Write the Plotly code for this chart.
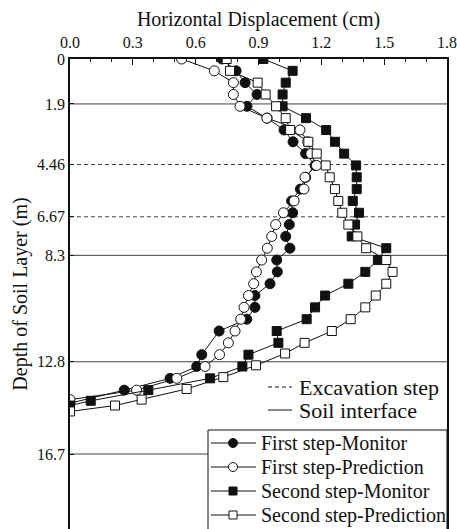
import plotly.graph_objects as go

# ---- data ----
fm_depth = [0, 0.5, 1, 1.5, 2, 2.5, 3, 3.5, 4, 4.5, 5, 5.5, 6, 6.5, 7, 7.5, 8, 8.5, 9, 9.5, 10, 10.5, 11, 11.5, 12.5, 13, 13.5, 14, 14.55]
fm_disp = [0.726, 0.793, 0.836, 0.893, 0.845, 0.941, 1.022, 1.065, 1.125, 1.17, 1.125, 1.10, 1.058, 1.063, 1.047, 1.03, 1.05, 0.987, 0.99, 0.955, 0.883, 0.883, 0.844, 0.712, 0.629, 0.605, 0.478, 0.259, 0.0]

fp_depth = [0, 0.5, 1, 1.5, 2, 2.5, 3, 3.5, 4, 4.5, 5, 5.5, 6, 6.5, 7, 7.5, 8, 8.5, 9, 9.5, 10, 10.5, 11, 11.5, 12, 12.5, 13, 13.5, 14, 14.4]
fp_disp = [0.533, 0.689, 0.78, 0.78, 0.812, 0.94, 1.098, 1.135, 1.15, 1.177, 1.122, 1.117, 1.07, 1.019, 0.982, 0.963, 0.942, 0.915, 0.89, 0.877, 0.852, 0.831, 0.815, 0.788, 0.756, 0.714, 0.645, 0.51, 0.318, 0.0]

sm_depth = [0, 0.5, 1, 1.5, 2, 2.5, 3, 3.5, 4, 4.5, 5, 5.5, 6, 6.5, 7, 7.5, 8, 8.5, 9, 9.5, 10, 10.5, 11, 11.5, 12, 12.5, 13, 13.5, 14, 14.45, 14.65]
sm_disp = [0.923, 1.063, 1.03, 1.015, 1.015, 1.127, 1.223, 1.265, 1.309, 1.366, 1.369, 1.369, 1.35, 1.38, 1.361, 1.345, 1.51, 1.47, 1.41, 1.329, 1.218, 1.17, 1.13, 0.987, 0.995, 0.852, 0.823, 0.669, 0.374, 0.099, 0.0]

sp_depth = [0, 0.5, 1, 1.5, 2, 2.5, 3, 3.5, 4, 4.5, 5, 5.5, 6, 6.5, 7, 7.5, 8, 8.5, 9, 9.5, 10, 10.5, 11, 11.5, 12, 12.45, 12.95, 13.45, 13.95, 14.4, 14.65, 14.9]
sp_disp = [0.748, 0.764, 0.896, 0.934, 0.984, 1.03, 1.051, 1.138, 1.178, 1.221, 1.24, 1.265, 1.281, 1.30, 1.329, 1.372, 1.414, 1.51, 1.54, 1.51, 1.46, 1.41, 1.34, 1.25, 1.12, 1.027, 0.888, 0.732, 0.557, 0.342, 0.215, 0.0]

series_names = ["First step-Monitor", "First step-Prediction", "Second step-Monitor", "Second step-Prediction"]
line_key_names = ["Excavation step", "Soil interface"]

excavation_depths = [4.46, 6.67]
interface_depths = [1.9, 8.3, 12.8, 16.7]
y_ticks = [0, 1.9, 4.46, 6.67, 8.3, 12.8, 16.7]
y_tick_text = ["0", "1.9", "4.46", "6.67", "8.3", "12.8", "16.7"]
x_ticks = [0, 0.3, 0.6, 0.9, 1.2, 1.5, 1.8]
x_tick_text = ["0.0", "0.3", "0.6", "0.9", "1.2", "1.5", "1.8"]

FONT = "Liberation Serif, Times New Roman, serif"
INK = "#111111"
RULE = "#444444"

W, H = 457, 529
ML, MR, MT, MB = 70, 10, 59, 0
PW, PH = W - ML - MR, H - MT - MB


def px_x(p):  # pixel -> paper x
    return (p - ML) / PW


def px_y(p):  # pixel -> paper y
    return (H - MB - p) / PH


fig = go.Figure()

styles = [("circle", INK), ("circle", "white"), ("square", INK), ("square", "white")]
data = [(fm_disp, fm_depth), (fp_disp, fp_depth), (sm_disp, sm_depth), (sp_disp, sp_depth)]
for name, (xs, ys), (sym, fill) in zip(series_names, data, styles):
    fig.add_trace(go.Scatter(
        x=xs, y=ys, mode="lines+markers", name=name, showlegend=False,
        line=dict(color=INK, width=1),
        marker=dict(symbol=sym, size=10 if sym == "circle" else 9, color=fill,
                    line=dict(color=INK, width=1)),
    ))

shapes = []
for d in excavation_depths:
    shapes.append(dict(type="line", xref="paper", yref="y", x0=0, x1=1, y0=d, y1=d,
                       line=dict(color=RULE, width=1, dash="4px,3px"), layer="below"))
for d in interface_depths:
    shapes.append(dict(type="line", xref="paper", yref="y", x0=0, x1=1, y0=d, y1=d,
                       line=dict(color=RULE, width=1), layer="below"))

annotations = []

# ---- key for the horizontal lines ----
key_rows = [387, 410]
key_dash = ["4px,3px", "solid"]
for name, ry, dash in zip(line_key_names, key_rows, key_dash):
    shapes.append(dict(type="line", xref="paper", yref="paper",
                       x0=px_x(268), x1=px_x(292), y0=px_y(ry), y1=px_y(ry),
                       line=dict(color=INK, width=1, dash=dash)))
    annotations.append(dict(xref="paper", yref="paper", x=px_x(297), y=px_y(ry),
                            xanchor="left", yanchor="middle", showarrow=False,
                            text=name, font=dict(family=FONT, size=22, color=INK)))

# ---- boxed legend for the four series ----
box_top = 430
shapes.append(dict(type="rect", xref="paper", yref="paper",
                   x0=px_x(208), x1=1, y0=px_y(box_top), y1=-0.1,
                   line=dict(color=INK, width=1), fillcolor="white", layer="above"))
leg_rows = [443, 467, 491, 515]
mx = px_x(233)
for name, ry, (sym, fill) in zip(series_names, leg_rows, styles):
    shapes.append(dict(type="line", xref="paper", yref="paper",
                       x0=px_x(211), x1=px_x(256), y0=px_y(ry), y1=px_y(ry),
                       line=dict(color=INK, width=1), layer="above"))
    r = 4.5 if sym == "circle" else 4
    shapes.append(dict(type="circle" if sym == "circle" else "rect",
                       xref="paper", yref="paper", xsizemode="pixel", ysizemode="pixel",
                       xanchor=mx, yanchor=px_y(ry), x0=-r, x1=r, y0=-r, y1=r,
                       line=dict(color=INK, width=1), fillcolor=fill, layer="above"))
    annotations.append(dict(xref="paper", yref="paper", x=px_x(259), y=px_y(ry),
                            xanchor="left", yanchor="middle", showarrow=False,
                            text=name, font=dict(family=FONT, size=20, color=INK)))

fig.update_layout(
    width=W, height=H,
    margin=dict(l=ML, r=MR, t=MT, b=MB),
    paper_bgcolor="white", plot_bgcolor="white",
    font=dict(family=FONT, size=16, color=INK),
    shapes=shapes, annotations=annotations,
    showlegend=False,
    xaxis=dict(
        side="top", range=[0, 1.8], tickvals=x_ticks, ticktext=x_tick_text,
        ticks="inside", ticklen=6, tickwidth=1, tickcolor=INK,
        minor=dict(dtick=0.1, ticks="inside", ticklen=3, tickcolor=INK),
        showline=True, linecolor=INK, linewidth=1.5, mirror=False,
        showgrid=False, zeroline=False, ticklabeloverflow="allow",
        ticklabelstandoff=3,
        title=dict(text="Horizontal Displacement (cm)", font=dict(family=FONT, size=20), standoff=2),
        tickfont=dict(family=FONT, size=16),
    ),
    yaxis=dict(
        range=[19.87, 0], tickvals=y_ticks, ticktext=y_tick_text,
        ticks="inside", ticklen=4, tickcolor=INK,
        showline=True, linecolor=INK, linewidth=1.5, mirror=True,
        showgrid=False, zeroline=False,
        title=dict(text="Depth of Soil Layer (m)", font=dict(family=FONT, size=20), standoff=4),
        tickfont=dict(family=FONT, size=16),
    ),
)

fig.write_html("out.html")
